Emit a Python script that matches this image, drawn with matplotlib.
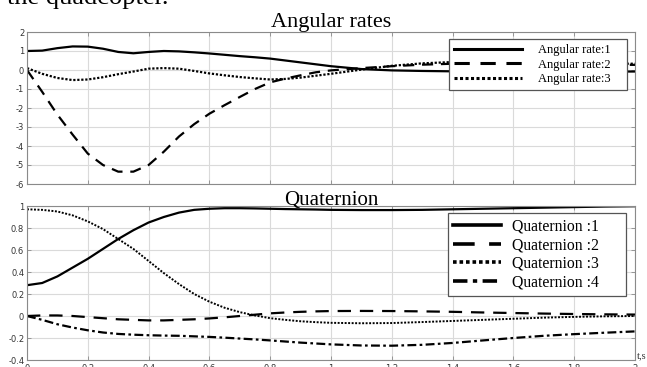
import matplotlib
matplotlib.use("Agg")
import matplotlib.pyplot as plt
from matplotlib.ticker import MultipleLocator

plt.rcParams['axes.unicode_minus'] = False

# Time samples (s)
t = [0.0, 0.05, 0.1, 0.15, 0.2, 0.25, 0.3, 0.35, 0.4, 0.45, 0.5, 0.55, 0.6, 0.65,
     0.7, 0.75, 0.8, 0.85, 0.9, 0.95, 1.0, 1.1, 1.2, 1.3, 1.4, 1.5, 1.6, 1.7, 1.8, 1.9, 2.0]

# Angular rates
rate1 = [1.0, 1.02, 1.15, 1.24, 1.23, 1.12, 0.95, 0.88, 0.95, 1.0, 0.98, 0.93, 0.87, 0.8,
         0.73, 0.67, 0.6, 0.5, 0.4, 0.3, 0.2, 0.05, -0.02, -0.05, -0.07, -0.08, -0.08,
         -0.08, -0.08, -0.08, -0.08]
rate2 = [0.0, -1.15, -2.35, -3.4, -4.4, -5.0, -5.35, -5.35, -5.0, -4.3, -3.5, -2.85, -2.3,
         -1.85, -1.42, -1.0, -0.65, -0.45, -0.28, -0.12, -0.02, 0.1, 0.2, 0.28, 0.33, 0.35,
         0.35, 0.33, 0.3, 0.28, 0.27]
rate3 = [0.1, -0.2, -0.42, -0.53, -0.5, -0.38, -0.22, -0.08, 0.07, 0.1, 0.07, -0.05, -0.18,
         -0.28, -0.37, -0.44, -0.5, -0.47, -0.4, -0.3, -0.2, 0.02, 0.22, 0.35, 0.42, 0.42,
         0.4, 0.38, 0.36, 0.34, 0.33]

# Quaternion components
q1 = [0.28, 0.30, 0.36, 0.44, 0.52, 0.61, 0.70, 0.78, 0.85, 0.9, 0.94, 0.965, 0.975, 0.98,
      0.98, 0.978, 0.975, 0.972, 0.97, 0.968, 0.965, 0.963, 0.963, 0.965, 0.97, 0.975,
      0.98, 0.985, 0.99, 0.995, 0.998]
q2 = [0.0, 0.005, 0.005, 0.0, -0.01, -0.02, -0.03, -0.035, -0.04, -0.04, -0.035, -0.03,
      -0.022, -0.012, 0.0, 0.012, 0.024, 0.032, 0.038, 0.042, 0.045, 0.046, 0.045, 0.042,
      0.038, 0.032, 0.027, 0.022, 0.018, 0.015, 0.013]
q3 = [0.97, 0.965, 0.95, 0.915, 0.86, 0.79, 0.70, 0.61, 0.50, 0.39, 0.29, 0.2, 0.13, 0.075,
      0.035, 0.005, -0.02, -0.035, -0.048, -0.056, -0.062, -0.066, -0.064, -0.055, -0.045,
      -0.035, -0.025, -0.015, -0.008, -0.003, 0.0]
q4 = [0.0, -0.035, -0.075, -0.105, -0.13, -0.15, -0.163, -0.17, -0.175, -0.178, -0.18,
      -0.185, -0.19, -0.197, -0.205, -0.213, -0.222, -0.232, -0.242, -0.25, -0.258, -0.268,
      -0.27, -0.262, -0.245, -0.222, -0.2, -0.18, -0.165, -0.152, -0.14]

rate_labels = ["Angular rate:1", "Angular rate:2", "Angular rate:3"]
quat_labels = ["Quaternion :1", "Quaternion :2", "Quaternion :3", "Quaternion :4"]
x_ticks = [0, 0.2, 0.4, 0.6, 0.8, 1, 1.2, 1.4, 1.6, 1.8, 2]
x_tick_labels = ["0", "0.2", "0.4", "0.6", "0.8", "1", "1.2", "1.4", "1.6", "1.8", "2"]
q_ticks = [-0.4, -0.2, 0, 0.2, 0.4, 0.6, 0.8, 1]
q_tick_labels = ["-0.4", "-0.2", "0", "0.2", "0.4", "0.6", "0.8", "1"]

W, H = 647, 367
fig = plt.figure(figsize=(W / 100, H / 100), dpi=100)
fig.patch.set_facecolor("white")

serif = ["Liberation Serif", "DejaVu Serif"]


def frac(left, top, right, bottom):
    return [left / W, 1 - bottom / H, (right - left) / W, (bottom - top) / H]


ax1 = fig.add_axes(frac(27, 32, 635, 184))
ax2 = fig.add_axes(frac(27, 206, 635, 360))

for ax in (ax1, ax2):
    ax.set_xlim(0, 2)
    ax.set_xticks(x_ticks)
    ax.grid(True, color="#dadada", linewidth=0.8)
    ax.set_axisbelow(True)
    for s in ax.spines.values():
        s.set_color("#8a8a8a")
        s.set_linewidth(0.8)
    ax.tick_params(direction="in", length=3, width=0.6, color="#8a8a8a",
                   top=True, right=True, labelsize=6, labelcolor="#333333", pad=2)

ax1.set_ylim(-6, 2)
ax1.yaxis.set_major_locator(MultipleLocator(1))
ax1.tick_params(labelbottom=False)

ax2.set_ylim(-0.4, 1)
ax2.set_yticks(q_ticks)
ax2.set_yticklabels(q_tick_labels)
ax2.set_xticklabels(x_tick_labels)
ax2.tick_params(axis="x", pad=3)


def style_legend(leg, lw):
    leg.get_frame().set_edgecolor("#555555")
    leg.get_frame().set_linewidth(0.9)
    for h in leg.get_lines():
        h.set_linewidth(lw)


# Angular rates
l1, = ax1.plot(t, rate1, color="black", lw=1.6, label=rate_labels[0])
l2, = ax1.plot(t, rate2, color="black", lw=1.6, dashes=(5, 3.5), label=rate_labels[1])
l3, = ax1.plot(t, rate3, color="black", lw=1.6, dashes=(1, 0.8), label=rate_labels[2])
leg1 = ax1.legend(handles=[l1, l2, l3], loc="upper left", mode="expand",
                  bbox_to_anchor=(0.694, 0.0, 0.293, 0.954),
                  prop={"family": serif, "size": 9}, handlelength=5.4, handletextpad=1.3,
                  labelspacing=0.2, borderpad=0.42, frameon=True, fancybox=False,
                  framealpha=1, borderaxespad=0)
style_legend(leg1, 2.2)
ax1.set_title("Angular rates", family=serif, fontsize=16, pad=2)

# Quaternion
m1, = ax2.plot(t, q1, color="black", lw=1.6, label=quat_labels[0])
m2, = ax2.plot(t, q2, color="black", lw=1.6, dashes=(6, 4), label=quat_labels[1])
m3, = ax2.plot(t, q3, color="black", lw=1.4, dashes=(1, 0.8), label=quat_labels[2])
m4, = ax2.plot(t, q4, color="black", lw=1.6, dashes=(4, 1.5, 1.2, 1.5), label=quat_labels[3])
leg2 = ax2.legend(handles=[m1, m2, m3, m4], loc="upper left", mode="expand",
                  bbox_to_anchor=(0.6924, 0.0, 0.293, 0.955),
                  prop={"family": serif, "size": 11.3}, handlelength=3.0, handletextpad=0.7,
                  labelspacing=0.17, borderpad=0.35, frameon=True, fancybox=False,
                  framealpha=1, borderaxespad=0)
style_legend(leg2, 2.6)
ax2.set_title("Quaternion", family=serif, fontsize=15, pad=1)

# Axis unit at the right end of the time axis
fig.text(637 / W, 1 - 358 / H, "t,s", family=serif, fontsize=7.5, color="#333333",
         ha="left", va="baseline")

# Running text above the figure
fig.text(7 / W, 1 - 4 / H, "the quadcopter.", family=serif, fontsize=19,
         ha="left", va="baseline")

fig.savefig("out.png", dpi=100, facecolor="white")
